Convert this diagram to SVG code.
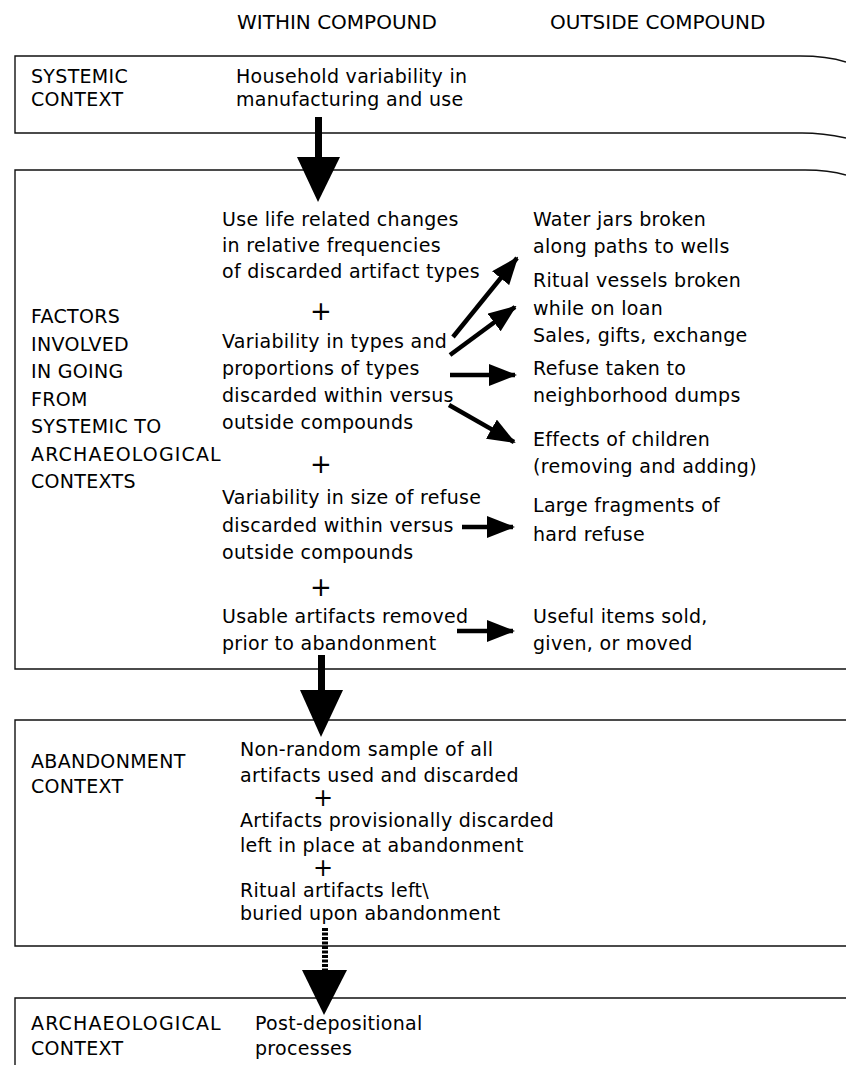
<svg xmlns="http://www.w3.org/2000/svg" width="846" height="1065" viewBox="0 0 846 1065">
<style>
.t{font-family:"DejaVu Sans","Liberation Sans",sans-serif;font-size:19px;fill:#000;letter-spacing:0.3px}
.h{font-family:"DejaVu Sans","Liberation Sans",sans-serif;font-size:20px;fill:#000}
.p{font-family:"DejaVu Sans","Liberation Sans",sans-serif;font-size:26px;fill:#000;text-anchor:middle}
.ps{font-family:"DejaVu Sans","Liberation Sans",sans-serif;font-size:24px;fill:#000;text-anchor:middle}
.box{fill:none;stroke:#111;stroke-width:1.4}
.sh{stroke:#000;stroke-width:4.5;fill:none}
.hd{fill:#000}
</style>
<defs>
<marker id="ah" markerUnits="userSpaceOnUse" markerWidth="28" markerHeight="22" refX="26" refY="11" orient="auto">
<path d="M0,0 L28,11 L0,22 Z" fill="#000"/>
</marker>
</defs>
<rect width="846" height="1065" fill="#fff"/>

<g id="header">
<text class="h" x="237" y="29">WITHIN COMPOUND</text>
<text class="h" x="550" y="29">OUTSIDE COMPOUND</text>
</g>

<g id="systemic">
<path class="box" d="M846,62 C830,57 815,56 800,56 L15,56 L15,133 L802,133 C818,133 832,135 846,138"/>
<text class="t" x="31" y="83">SYSTEMIC</text>
<text class="t" x="31" y="106">CONTEXT</text>
<text class="t" x="236" y="83">Household variability in</text>
<text class="t" x="236" y="106">manufacturing and use</text>
</g>

<g id="factors">
<path class="box" d="M846,175 C832,171 818,170 805,170 L15,170 L15,669 L846,669"/>
<text class="t" x="31" y="323">FACTORS</text>
<text class="t" x="31" y="351">INVOLVED</text>
<text class="t" x="31" y="378">IN GOING</text>
<text class="t" x="31" y="406">FROM</text>
<text class="t" x="31" y="433">SYSTEMIC TO</text>
<text class="t" x="31" y="461" textLength="190" lengthAdjust="spacing">ARCHAEOLOGICAL</text>
<text class="t" x="31" y="488">CONTEXTS</text>
</g>

<g id="uselife">
<text class="t" x="222" y="226">Use life related changes</text>
<text class="t" x="222" y="252">in relative frequencies</text>
<text class="t" x="222" y="278">of discarded artifact types</text>
</g>
<text class="p" x="321" y="320">+</text>
<g id="typesvar">
<text class="t" x="222" y="348">Variability in types and</text>
<text class="t" x="222" y="375">proportions of types</text>
<text class="t" x="222" y="402">discarded within versus</text>
<text class="t" x="222" y="429">outside compounds</text>
</g>
<text class="p" x="321" y="473">+</text>
<g id="sizevar">
<text class="t" x="222" y="504">Variability in size of refuse</text>
<text class="t" x="222" y="532">discarded within versus</text>
<text class="t" x="222" y="559">outside compounds</text>
</g>
<text class="p" x="321" y="596">+</text>
<g id="usable">
<text class="t" x="222" y="623">Usable artifacts removed</text>
<text class="t" x="222" y="650">prior to abandonment</text>
</g>

<g id="water"><text class="t" x="533" y="226">Water jars broken</text><text class="t" x="533" y="253">along paths to wells</text></g>
<g id="ritual"><text class="t" x="533" y="287">Ritual vessels broken</text><text class="t" x="533" y="315">while on loan</text></g>
<g id="sales"><text class="t" x="533" y="342">Sales, gifts, exchange</text></g>
<g id="refuse"><text class="t" x="533" y="375">Refuse taken to</text><text class="t" x="533" y="402">neighborhood dumps</text></g>
<g id="children"><text class="t" x="533" y="446">Effects of children</text><text class="t" x="533" y="473">(removing and adding)</text></g>
<g id="large"><text class="t" x="533" y="512">Large fragments of</text><text class="t" x="533" y="541">hard refuse</text></g>
<g id="useful"><text class="t" x="533" y="623">Useful items sold,</text><text class="t" x="533" y="650">given, or moved</text></g>

<g id="abandonment">
<path class="box" d="M846,720 L15,720 L15,946 L846,946"/>
<text class="t" x="31" y="768">ABANDONMENT</text>
<text class="t" x="31" y="793">CONTEXT</text>
<text class="t" x="240" y="756">Non-random sample of all</text>
<text class="t" x="240" y="782">artifacts used and discarded</text>
<text class="ps" x="323" y="806">+</text>
<text class="t" x="240" y="827">Artifacts provisionally discarded</text>
<text class="t" x="240" y="852">left in place at abandonment</text>
<text class="ps" x="323" y="876">+</text>
<text class="t" x="240" y="897">Ritual artifacts left\</text>
<text class="t" x="240" y="920">buried upon abandonment</text>
</g>

<g id="archaeological">
<path class="box" d="M846,998 L15,998 L15,1065"/>
<text class="t" x="31" y="1030" textLength="190" lengthAdjust="spacing">ARCHAEOLOGICAL</text>
<text class="t" x="31" y="1055">CONTEXT</text>
<text class="t" x="255" y="1030">Post-depositional</text>
<text class="t" x="255" y="1055">processes</text>
</g>

<g id="connectors">
<rect x="315" y="117" width="7" height="42"/>
<polygon class="hd" points="297,157 340,157 318,202"/>
<rect x="318" y="655" width="7" height="37"/>
<polygon class="hd" points="300,690 343,690 321,737"/>
<line x1="325" y1="928" x2="325" y2="972" stroke="#000" stroke-width="6" stroke-dasharray="3 1.5"/>
<polygon class="hd" points="302,970 347,970 324,1015"/>
<line class="sh" x1="453" y1="337" x2="517" y2="258" marker-end="url(#ah)"/>
<line class="sh" x1="450" y1="355" x2="515" y2="307" marker-end="url(#ah)"/>
<line class="sh" x1="450" y1="375" x2="515" y2="375" marker-end="url(#ah)"/>
<line class="sh" x1="449" y1="405" x2="514" y2="442" marker-end="url(#ah)"/>
<line class="sh" x1="462" y1="527" x2="513" y2="527" marker-end="url(#ah)"/>
<line class="sh" x1="457" y1="631" x2="513" y2="631" marker-end="url(#ah)"/>
</g>
</svg>
